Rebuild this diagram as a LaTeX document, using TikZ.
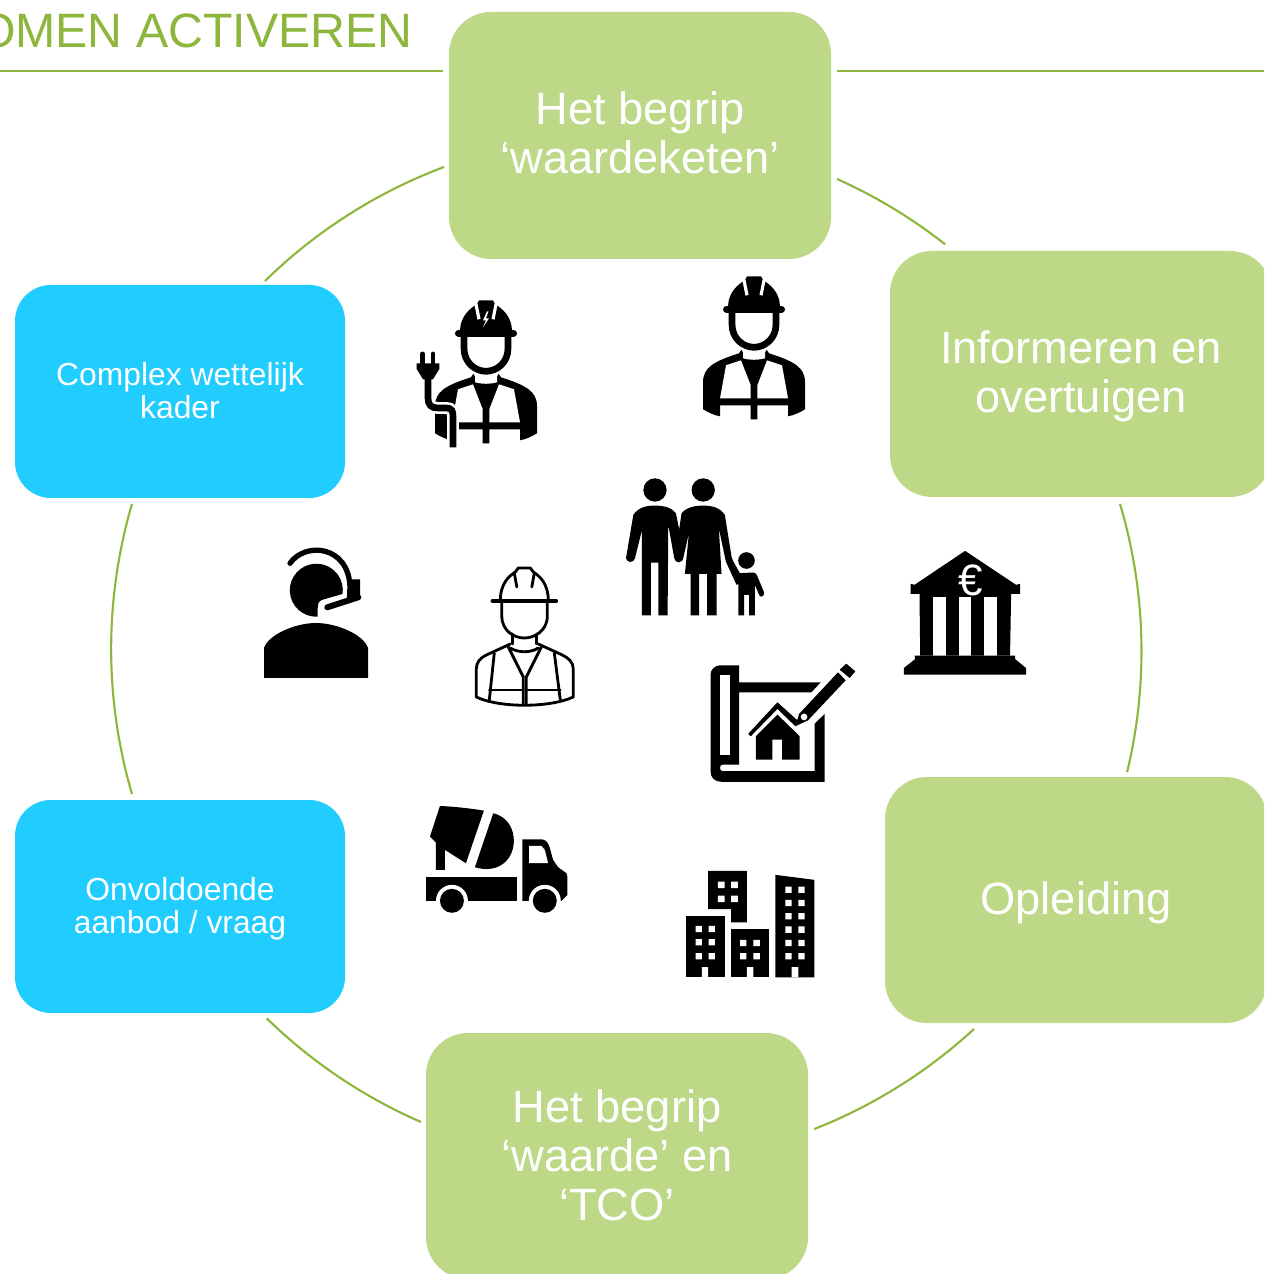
\documentclass[tikz,border=0pt]{standalone}
\usepackage{fontspec}
\setmainfont{Liberation Sans}
\definecolor{leafgreen}{HTML}{BDD887}
\definecolor{linegreen}{HTML}{8CB63C}
\definecolor{skyblue}{HTML}{21CDFF}
\tikzset{
	greenbox/.style={fill=leafgreen, rounded corners=0.42cm},
	bluebox/.style={fill=skyblue, rounded corners=0.36cm},
	greentext/.style={align=center, text=white, inner sep=0pt, font=\fontsize{12.87pt}{13.9pt}\selectfont},
	bluetext/.style={align=center, text=white, inner sep=0pt, font=\fontsize{9.05pt}{9.4pt}\selectfont},
	ringline/.style={draw=linegreen, line width=0.6pt},
	zoomed/.style={shift={#1}, x=0.003333cm, y=-0.003333cm},
	solidworker/.pic={
		% shoulders and vest
		\fill (-51,100) -- (-51,73) .. controls (-51,58) and (-40,52) .. (-15,44) -- (-11,38) -- (11,38) -- (15,44) .. controls (40,52) and (51,58) .. (51,73) -- (51,100) .. controls (46,103) and (40,106) .. (34,107) -- (34,96) -- (3.3,96) -- (3.3,110) -- (-3.3,110) -- (-3.3,96) -- (-34,96) -- (-34,107) .. controls (-40,106) and (-46,103) .. (-51,100) -- cycle;
		\fill[white] (-28,56) -- (-13,51) -- (-3.3,76) -- (-3.3,89) -- (-34,89) -- cycle;
		\fill[white] (28,56) -- (13,51) -- (3.3,76) -- (3.3,89) -- (34,89) -- cycle;
		% face and collar
		\fill[white] (-19,0) -- (19,0) -- (19,30) -- (11,43) -- (11,49) .. controls (4,51) and (-4,51) .. (-11,49) -- (-11,43) -- (-19,30) -- cycle;
		\draw[line width=1.9pt] (-22,0) -- (-22,15) .. controls (-22,30) and (-10,38) .. (0,38) .. controls (10,38) and (22,30) .. (22,15) -- (22,0);
		% helmet
		\fill (-26,-2) .. controls (-26,-17) and (-16,-25) .. (-9,-29) -- (-7,-33) -- (7,-33) -- (9,-29) .. controls (16,-25) and (26,-17) .. (26,-2) -- cycle;
		\draw[line width=2pt, line cap=round] (-27.5,0) -- (27.5,0);
		\draw[white, line width=0.9pt] (-10,-29) -- (-7,-14);
		\draw[white, line width=0.9pt] (10,-29) -- (7,-14);
	}
}

\begin{document}
\begin{tikzpicture}[x=0.01cm, y=-0.01cm]
	\useasboundingbox (0,0) rectangle (1264,1274);
	\clip (0,0) rectangle (1264,1274);
	% title and rule
	\node[anchor=base east, inner sep=0pt, text=linegreen, font=\fontsize{13.72pt}{14pt}\selectfont] (title) at (413,48) {OMEN ACTIVEREN};
	\coordinate (ruleA) at (0,71);
	\coordinate (ruleB) at (443,71);
	\coordinate (ruleC) at (837,71);
	\coordinate (ruleD) at (1264,71);
	\draw[ringline] (ruleA) -- (ruleB);
	\draw[ringline] (ruleC) -- (ruleD);
	% ring
	\coordinate (ringA) at (444,167);
	\coordinate (ringB) at (837,179);
	\coordinate (ringC) at (1120,504);
	\coordinate (ringD) at (974,1029);
	\coordinate (ringE) at (421,1122);
	\coordinate (ringF) at (132,794);
	\draw[ringline] (ringA) arc[start angle=-110.6, end angle=-134.4, radius=515];
	\draw[ringline] (ringB) arc[start angle=-65.9, end angle=-51.8, radius=515];
	\draw[ringline] (ringC) arc[start angle=-16.6, end angle=13.6, radius=515];
	\draw[ringline] (ringD) arc[start angle=47.4, end angle=68.5, radius=515];
	\draw[ringline] (ringE) arc[start angle=113.5, end angle=134.3, radius=515];
	\draw[ringline] (ringF) arc[start angle=163.64, end angle=196.36, radius=515];
	% green boxes
	\fill[greenbox] (449,12) rectangle (831,259);
	\node[greentext] (waardeketen) at (640,133) {Het begrip\\‘waardeketen’};
	\fill[greenbox] (890,251) rectangle (1272,497);
	\node[greentext] (informeren) at (1081,376.5) {Informeren en\\overtuigen};
	\fill[greenbox] (885,777) rectangle (1267,1023);
	\node[greentext] (opleiding) at (1076,903) {Opleiding};
	\fill[greenbox] (426,1033) rectangle (808,1279);
	\node[greentext] (tco) at (617,1155) {Het begrip\\‘waarde’ en\\‘TCO’};
	% blue boxes
	\fill[bluebox] (15,285) rectangle (345,498);
	\node[bluetext] (wettelijk) at (180,390.5) {Complex wettelijk\\kader};
	\fill[bluebox] (15,800) rectangle (345,1013);
	\node[bluetext] (aanbod) at (180,908.5) {Onvoldoende\\aanbod / vraag};
	% electrician
	\pic at (486,333.3) {solidworker};
	\draw[white, line width=3.4pt] (428,378) -- (428,398) .. controls (428,405) and (431,408) .. (438,408) -- (446,408) .. controls (452,408) and (453,411) .. (453,417) -- (453,447.3);
	\draw[line width=1.9pt] (428,378) -- (428,398) .. controls (428,405) and (431,408) .. (438,408) -- (446,408) .. controls (452,408) and (453,411) .. (453,417) -- (453,447.3);
	\fill (416.7,363.3) -- (439.3,363.3) -- (439.3,369) -- (433,379.3) -- (423,379.3) -- (416.7,369) -- cycle;
	\draw[line width=1.4pt, line cap=round] (422.5,354) -- (422.5,365);
	\draw[line width=1.4pt, line cap=round] (433,354) -- (433,365);
	\fill[white] (487,311.3) -- (483,320.3) -- (486,320.3) -- (483,327.3) -- (489,318.3) -- (486,318.3) -- (488.5,311.3) -- cycle;
	% site worker
	\pic at (754,309.3) {solidworker};
	% agent with headset
	\fill (264,678) -- (264,648) .. controls (268,635) and (295,623) .. (316,623) .. controls (337,623) and (364,635) .. (368,648) -- (368,678) -- cycle;
	\fill (317.7,616.7) arc[start angle=87, end angle=368, radius=26.5] -- (321.7,600) .. controls (318,602) and (317.7,605) .. (317.7,608) -- cycle;
	\draw[line width=1.5pt, line cap=round] (290,563.3) .. controls (305,541.7) and (348.3,545) .. (350,586.7) -- (349.5,598);
	\fill (351.7,579.3) -- (360,579.3) -- (360,599) -- (351.7,601.7) -- cycle;
	\draw[line width=1.7pt, line cap=round] (327.3,607.3) -- (358.3,597.3);
	% outlined worker
	\begin{scope}[shift={(524.3,601)}, line width=0.8pt, line cap=round, line join=round]
		\draw[line width=1pt] (-32,0) -- (32,0);
		\draw (-24,0) .. controls (-24,-18) and (-15,-25) .. (-9,-29) -- (-6,-33) -- (6,-33) -- (9,-29) .. controls (15,-25) and (24,-18) .. (24,0);
		\draw (-10,-28) -- (-7.5,-14);
		\draw (10,-28) -- (7.5,-14);
		\draw (-22.5,0) -- (-22.5,15) .. controls (-22.5,30) and (-10,37) .. (0,37) .. controls (10,37) and (23,30) .. (23,15) -- (23,0);
		\draw (-12,33) -- (-12,43);
		\draw (12,33) -- (12,43);
		\draw (-14,43) -- (-38,54) .. controls (-44,57) and (-48,61) .. (-48,68) -- (-48,96) .. controls (-25,107) and (25,107) .. (49,96) -- (49,68) .. controls (49,61) and (44,57) .. (38,54) -- (14,43);
		\draw (-14,47) .. controls (-6,52) and (6,52) .. (14,47);
		\draw (-16,46) -- (-1,76) -- (-1,104);
		\draw (17,46) -- (2,76) -- (2,104);
		\draw (-30,52) -- (-35,99);
		\draw (30,52) -- (36,99);
		\draw (-35,89) -- (-1,89);
		\draw (2,89) -- (36,89);
	\end{scope}
	% family, plan and bank
	\begin{scope}[zoomed={(620,470)}]
		% man
		\fill (105,60) circle (35);
		\fill (66,437) -- (66,180) -- (45,265) .. controls (42,280) and (20,280) .. (18,265) -- (40,135) .. controls (55,112) and (80,107) .. (105,107) .. controls (130,107) and (155,112) .. (168,130) -- (180,190) -- (190,262) .. controls (190,282) and (165,282) .. (163,265) -- (145,165) -- (143,437) -- (115,437) -- (115,278) -- (93,278) -- (93,437) -- cycle;
		% woman
		\fill (250,60) circle (35);
		\fill (185,130) .. controls (200,112) and (225,107) .. (250,107) .. controls (275,107) and (300,112) .. (315,135) -- (335,260) -- (358,340) -- (350,345) -- (318,275) -- (297,175) -- (305,312) -- (290,312) -- (290,437) -- (262,437) -- (262,312) -- (238,312) -- (238,437) -- (212,437) -- (212,312) -- (195,312) -- (207,190) -- (190,265) -- (165,262) -- cycle;
		% child
		\fill (380,272) circle (25);
		\fill (356,437) -- (356,345) -- (320,275) -- (335,265) -- (360,310) -- (400,308) .. controls (410,310) and (413,318) .. (415,325) -- (433,368) .. controls (434,382) and (420,384) .. (418,375) -- (405,345) -- (405,437) -- (388,437) -- (388,375) -- (373,375) -- (373,437) -- cycle;
		% plan
		\fill (300,587) -- (358,587) -- (358,638) -- (603,638) -- (575,668) -- (358,668) -- (358,885) -- (308,885) .. controls (298,885) and (298,905) .. (308,905) -- (585,905) -- (585,762) -- (615,733) -- (615,937) -- (305,937) .. controls (285,937) and (272,925) .. (272,905) -- (272,615) .. controls (272,600) and (285,587) .. (300,587) -- cycle;
		\fill[white] (300,617) rectangle (330,855);
		\fill (385,793) -- (473,698) -- (533,752) -- (527,770) -- (473,718) -- (393,800) -- cycle;
		\fill (408,800) -- (473,735) -- (540,800) -- (540,870) -- (487,870) -- (487,810) -- (458,810) -- (458,870) -- (408,870) -- cycle;
		% pencil
		\fill (527,770) -- (538,733) -- (655,608) -- (678,632) -- (565,752) -- cycle;
		\fill (680,582) -- (707,605) -- (690,625) -- (660,600) -- cycle;
		\fill[white] (553,742) circle (10);
		% bank
		\fill (885,345) -- (1037,243) -- (1190,345) -- (1202,342) -- (1202,372) -- (1175,372) -- (1175,383) -- (1172,558) -- (902,558) -- (900,383) -- (900,372) -- (873,372) -- (873,342) -- cycle;
		\fill[white] (940,383) rectangle (979,558);
		\fill[white] (1018,383) rectangle (1056,558);
		\fill[white] (1095,383) rectangle (1134,558);
		\fill (885,558) -- (1187,558) -- (1187,568) -- (1220,595) -- (1220,615) -- (853,615) -- (853,595) -- (887,568) -- cycle;
		\node[text=white, inner sep=0pt, font=\fontsize{12.5pt}{12.5pt}\selectfont] (euro) at (1053,333) {€};
	\end{scope}
	% truck and buildings
	\begin{scope}[zoomed={(410,790)}]
		% mixer
		\fill (90,48) .. controls (135,50) and (180,55) .. (222,62) -- (168,220) -- (105,180) -- (105,240) -- (78,240) -- (78,158) -- (60,140) -- cycle;
		\fill (250,70) .. controls (295,80) and (313,120) .. (312,155) .. controls (310,215) and (260,252) .. (195,232) -- cycle;
		% cab and bed
		\fill (338,148) -- (395,148) .. controls (420,150) and (420,180) .. (430,210) -- (445,232) -- (470,250) -- (473,262) -- (473,315) -- (455,333) -- (338,333) -- cycle;
		\fill[white] (358,168) -- (395,168) -- (405,180) -- (415,220) -- (358,220) -- cycle;
		\fill (48,262) rectangle (320,333);
		% wheels
		\fill[white] (126,333) circle (48);
		\fill[white] (405,333) circle (48);
		\fill (126,333) circle (36);
		\fill (405,333) circle (36);
		% tower blocks
		\fill (896,243) -- (1012,243) -- (1012,398) -- (965,398) -- (965,358) -- (896,358) -- cycle;
		\fill (828,378) rectangle (945,563);
		\fill (963,418) rectangle (1080,563);
		\fill (1098,255) -- (1215,270) -- (1215,563) -- (1098,563) -- cycle;
		% windows and doors
		\fill[white] (925,275) rectangle +(20,20) (965,275) rectangle +(20,20) (925,317) rectangle +(20,20) (965,317) rectangle +(20,20);
		\fill[white] (858,408) rectangle +(19,19) (897,408) rectangle +(19,19) (858,448) rectangle +(19,19) (897,448) rectangle +(19,19) (858,490) rectangle +(19,19) (897,490) rectangle +(19,19) (877,532) rectangle (896,563);
		\fill[white] (992,450) rectangle +(19,19) (1032,450) rectangle +(19,19) (992,490) rectangle +(19,19) (1032,490) rectangle +(19,19) (1012,532) rectangle (1032,563);
		\fill[white] (1128,290) rectangle +(19,19) (1167,290) rectangle +(19,19) (1128,330) rectangle +(19,19) (1167,330) rectangle +(19,19) (1128,370) rectangle +(19,19) (1167,370) rectangle +(19,19) (1128,410) rectangle +(19,19) (1167,410) rectangle +(19,19) (1128,450) rectangle +(19,19) (1167,450) rectangle +(19,19) (1128,490) rectangle +(19,19) (1167,490) rectangle +(19,19) (1147,532) rectangle (1167,563);
	\end{scope}
\end{tikzpicture}
\end{document}
